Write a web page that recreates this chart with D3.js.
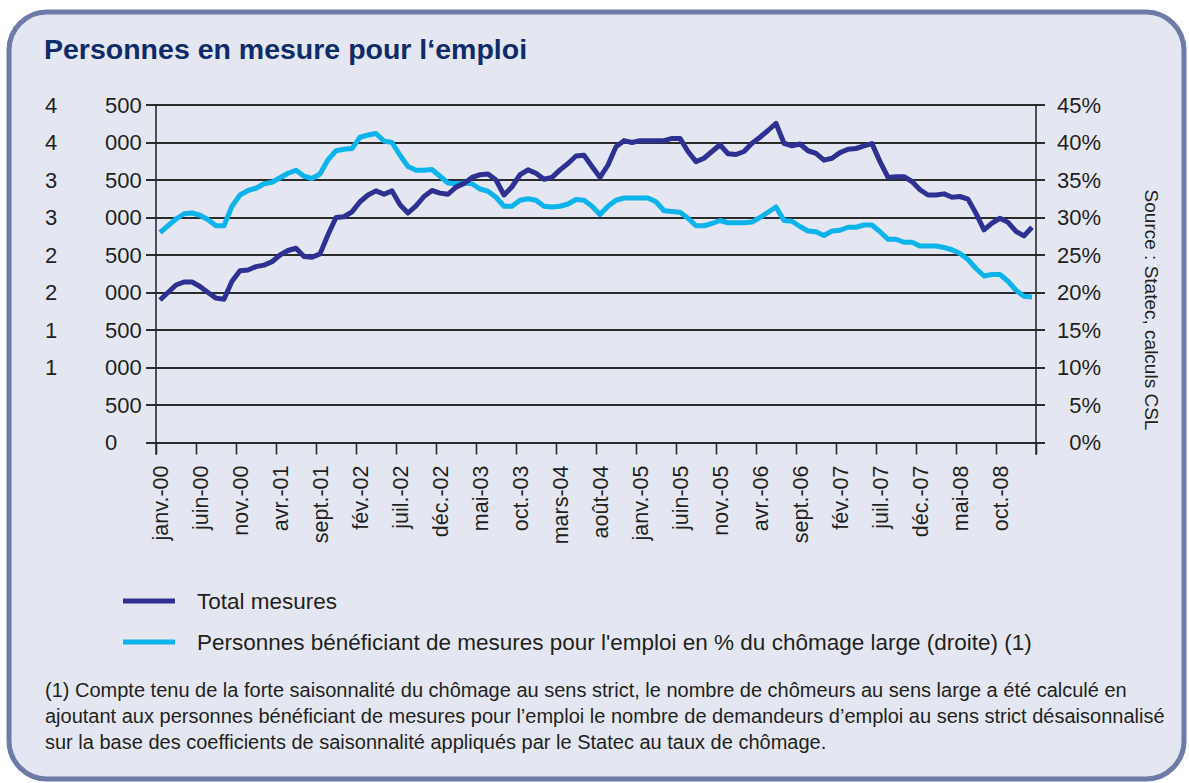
<!DOCTYPE html>
<html>
<meta charset="utf-8">
<style>
  body { margin: 0; background: #fff; }
  svg { width: 1189px; height: 783px; display: block; }
  text { font-family: "Liberation Sans", Arial, sans-serif; fill: #231f20; }
  .title { font-weight: bold; fill: #0f2b69; font-size: 28.5px; }
  .ylab { font-size: 22px; }
  .grid line { stroke: #2b2b2b; stroke-width: 1.6; shape-rendering: crispEdges; }
  .note { font-size: 20px; }
</style>
<body>
  <svg></svg>
</body>

<script src="https://cdn.jsdelivr.net/npm/d3@7"></script>

<script>

  // monthly data, janv.-00 .. févr.-09
  var totalMesures = [
    1900, 2000, 2100, 2140, 2140, 2080, 2000, 1925, 1910, 2150,
    2290, 2300, 2345, 2365, 2410, 2500, 2560, 2590, 2480, 2470,
    2515, 2770, 3000, 3010, 3075, 3210, 3300, 3355, 3310, 3355,
    3170, 3060, 3155, 3280, 3360, 3325, 3310, 3405, 3455, 3535,
    3570, 3580, 3500, 3300, 3410, 3570, 3635, 3590, 3510, 3535,
    3635, 3720, 3820, 3830, 3680, 3535, 3700, 3945, 4025, 4000,
    4025, 4025, 4025, 4025, 4055, 4055, 3880, 3745, 3790, 3880,
    3970, 3850, 3840, 3880, 3990, 4070, 4160, 4255, 3990, 3955,
    3980, 3890, 3855, 3765, 3790, 3865, 3910, 3920, 3955, 3985,
    3745, 3535, 3545, 3545, 3480, 3370, 3300, 3300, 3315, 3270,
    3280, 3245, 3055, 2835, 2925, 2990, 2935, 2815, 2755, 2870
  ];

  var pctChomage = [
    28.0, 28.9, 29.8, 30.5, 30.6, 30.3, 29.7, 28.9, 28.9, 31.5,
    33.0, 33.6, 33.9, 34.5, 34.7, 35.3, 35.9, 36.3, 35.5, 35.2,
    35.8, 37.7, 38.9, 39.1, 39.2, 40.7, 41.0, 41.2, 40.2, 40.0,
    38.3, 36.8, 36.3, 36.3, 36.4, 35.5, 34.6, 34.5, 34.6, 34.5,
    33.8, 33.5, 32.7, 31.5, 31.5, 32.3, 32.5, 32.3, 31.5, 31.4,
    31.5, 31.8, 32.4, 32.3, 31.5, 30.4, 31.5, 32.3, 32.6, 32.6,
    32.6, 32.6, 32.1, 30.9, 30.8, 30.7, 29.9, 28.9, 28.9, 29.2,
    29.6, 29.3, 29.3, 29.3, 29.4, 30.0, 30.7, 31.4, 29.6, 29.5,
    28.8, 28.2, 28.1, 27.6, 28.2, 28.3, 28.7, 28.7, 29.0, 29.0,
    28.1, 27.1, 27.1, 26.7, 26.7, 26.2, 26.2, 26.2, 26.0, 25.7,
    25.2, 24.4, 23.2, 22.2, 22.4, 22.4, 21.5, 20.3, 19.5, 19.4
  ];

  // one label every 5 months
  var monthLabels = [
    "janv.-00", "juin-00", "nov.-00", "avr.-01", "sept.-01", "fév.-02",
    "juil.-02", "déc.-02", "mai-03", "oct.-03", "mars-04", "août-04",
    "janv.-05", "juin-05", "nov.-05", "avr.-06", "sept.-06", "fév.-07",
    "juil.-07", "déc.-07", "mai-08", "oct.-08"
  ];

  var leftTicks = [0, 500, 1000, 1500, 2000, 2500, 3000, 3500, 4000, 4500];
  var rightTicks = [0, 5, 10, 15, 20, 25, 30, 35, 40, 45];

  var legendNames = [
    "Total mesures",
    "Personnes bénéficiant de mesures pour l'emploi en % du chômage large (droite) (1)"
  ];

  var noteLines = [
    "(1) Compte tenu de la forte saisonnalité du chômage au sens strict, le nombre de chômeurs au sens large a été calculé en",
    "ajoutant aux personnes bénéficiant de mesures pour l’emploi le nombre de demandeurs d’emploi au sens strict désaisonnalisé",
    "sur la base des coefficients de saisonnalité appliqués par le Statec au taux de chômage."
  ];

  var darkBlue = "#2e3192";
  var lightBlue = "#0db4ec";

  var svg = d3.select("svg");

  //FRAME
  svg.append("rect")
    .attr("x", 9).attr("y", 12)
    .attr("width", 1175).attr("height", 767)
    .attr("rx", 38).attr("ry", 38)
    .attr("fill", "#e4e7f1")
    .attr("stroke", "#6e7aa8")
    .attr("stroke-width", 5);

  svg.append("text")
    .attr("class", "title")
    .attr("x", 44).attr("y", 59)
    .text("Personnes en mesure pour l‘emploi");

  //SCALES
  var plot = {left: 156, right: 1036, top: 105, bottom: 442.5};
  var n = totalMesures.length;

  var xScale = d3.scaleLinear().domain([0, n]).range([plot.left, plot.right]);
  var yLeft = d3.scaleLinear().domain([0, 4500]).range([plot.bottom, plot.top]);
  var yRight = d3.scaleLinear().domain([0, 45]).range([plot.bottom, plot.top]);

  //GRID (gridlines run through the tick marks on both sides)
  svg.append("g").attr("class", "grid")
    .selectAll("line").data(leftTicks).enter()
    .append("line")
      .attr("x1", plot.left - 10).attr("x2", plot.right + 9)
      .attr("y1", function(d){ return Math.round(yLeft(d)); })
      .attr("y2", function(d){ return Math.round(yLeft(d)); });

  //LEFT LABELS: thousands set in their own column, like the original
  var yl = svg.append("g").selectAll("g").data(leftTicks).enter()
    .append("g").attr("transform", function(d){ return "translate(0," + yLeft(d) + ")"; });
  yl.append("text")
    .attr("class", "ylab").attr("x", 45).attr("dy", "0.36em")
    .text(function(d){ return d >= 1000 ? Math.floor(d / 1000) : ""; });
  yl.append("text")
    .attr("class", "ylab").attr("x", 105).attr("dy", "0.36em")
    .text(function(d){ return d >= 1000 ? d3.format("03")(d % 1000) : d; });

  //RIGHT LABELS
  svg.append("g").selectAll("text").data(rightTicks).enter()
    .append("text")
      .attr("class", "ylab")
      .attr("x", 1101).attr("y", function(d){ return yRight(d); })
      .attr("dy", "0.36em").attr("text-anchor", "end")
      .text(function(d){ return d + "%"; });

  // vertical axis lines
  svg.append("line")
    .attr("x1", plot.left).attr("x2", plot.left)
    .attr("y1", plot.top).attr("y2", plot.bottom + 12)
    .attr("stroke", "#2b2b2b").attr("stroke-width", 1.6);
  svg.append("line")
    .attr("x1", plot.right).attr("x2", plot.right)
    .attr("y1", plot.top).attr("y2", plot.bottom + 12)
    .attr("stroke", "#2b2b2b").attr("stroke-width", 1.6);

  // x axis: ticks between categories, a label every 5 months
  var tickIdx = d3.range(0, n + 1, 5);
  var bottomAxis = d3.axisBottom(xScale).tickValues(tickIdx).tickFormat("").tickSizeInner(12).tickSizeOuter(0);
  var gb = svg.append("g").attr("transform", "translate(0," + plot.bottom + ")").call(bottomAxis);
  gb.select(".domain").attr("stroke", "#2b2b2b").attr("stroke-width", 1.6);
  gb.selectAll(".tick line").attr("stroke", "#2b2b2b").attr("stroke-width", 1.6);

  svg.append("g").selectAll("text").data(monthLabels).enter()
    .append("text")
      .attr("transform", function(d, i){
        return "translate(" + (xScale(i * 5 + 0.5) + 8) + "," + (plot.bottom + 23) + ") rotate(-90)";
      })
      .attr("text-anchor", "end")
      .attr("font-size", "21.5px")
      .text(function(d){ return d; });

  // source, rotated on the right
  svg.append("text")
    .attr("transform", "translate(1145,310) rotate(90)")
    .attr("text-anchor", "middle")
    .attr("font-size", "19px")
    .text("Source : Statec, calculs CSL");

  //LINES
  var lineLeft = d3.line()
    .x(function(d, i){ return xScale(i + 0.5); })
    .y(function(d){ return yLeft(d); });
  var lineRight = d3.line()
    .x(function(d, i){ return xScale(i + 0.5); })
    .y(function(d){ return yRight(d); });

  svg.append("path").datum(pctChomage)
    .attr("d", lineRight)
    .attr("fill", "none").attr("stroke", lightBlue)
    .attr("stroke-width", 5).attr("stroke-linejoin", "round");

  svg.append("path").datum(totalMesures)
    .attr("d", lineLeft)
    .attr("fill", "none").attr("stroke", darkBlue)
    .attr("stroke-width", 5).attr("stroke-linejoin", "round");

  //LEGEND
  var legend = svg.append("g").selectAll("g").data(legendNames).enter()
    .append("g")
      .attr("transform", function(d, i){ return "translate(123," + (601 + i * 41) + ")"; });
  legend.append("line")
    .attr("x1", 0).attr("x2", 52)
    .attr("stroke", function(d, i){ return i == 0 ? darkBlue : lightBlue; })
    .attr("stroke-width", 5);
  legend.append("text")
    .attr("x", 74).attr("dy", "0.35em")
    .attr("font-size", "22.5px")
    .text(function(d){ return d; });

  //FOOTNOTE
  svg.append("g").selectAll("text").data(noteLines).enter()
    .append("text")
      .attr("class", "note")
      .attr("x", 45)
      .attr("y", function(d, i){ return 697 + i * 26; })
      .text(function(d){ return d; });

</script>

</html>
